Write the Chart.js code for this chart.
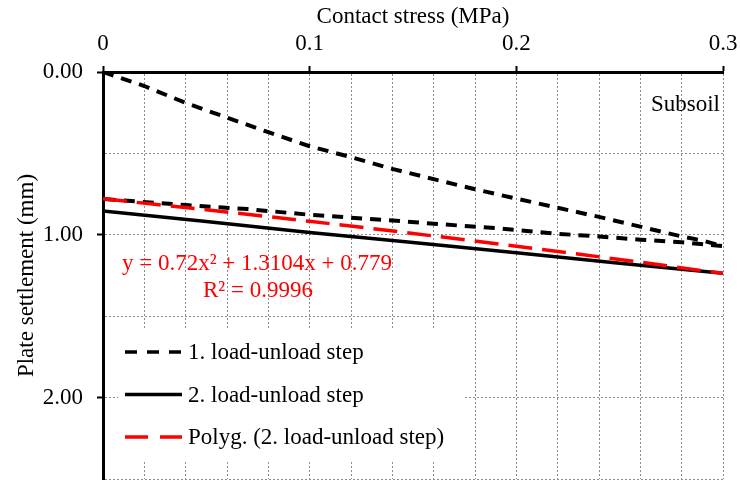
<!DOCTYPE html>
<html>
<head>
<meta charset="utf-8">
<script src="https://cdn.jsdelivr.net/npm/chart.js@4.4.1/dist/chart.umd.min.js"></script>
<style>
  html, body { margin: 0; padding: 0; background: #fff; }
  #wrap { width: 740px; height: 481px; }
</style>
</head>
<body>
<div id="wrap"><canvas id="plate"></canvas></div>
<script>
// contact stress (MPa) / plate settlement (mm)
const stress1 = [0, 0.02, 0.04, 0.06, 0.08, 0.1, 0.12, 0.14, 0.16, 0.18, 0.2, 0.22, 0.24, 0.26, 0.28, 0.29, 0.3,
                 0.28, 0.26, 0.24, 0.22, 0.19, 0.16, 0.14, 0.1, 0.07, 0.04, 0];
const settle1 = [0, 0.086, 0.19, 0.28, 0.37, 0.456, 0.523, 0.595, 0.658, 0.72, 0.778, 0.834, 0.89, 0.95, 1.01, 1.035, 1.07,
                 1.046, 1.03, 1.01, 0.994, 0.959, 0.932, 0.912, 0.877, 0.842, 0.817, 0.78];

const stress2 = [0, 0.05, 0.1, 0.15, 0.2, 0.25, 0.3];
const settle2 = [0.854, 0.918, 0.986, 1.048, 1.11, 1.175, 1.236];

// y = 0.72x² + 1.3104x + 0.779
const stressFit = [0, 0.05, 0.1, 0.15, 0.2, 0.25, 0.3];
const settleFit = [0.779, 0.8463, 0.9172, 0.9918, 1.0699, 1.1516, 1.2369];

const seriesNames = ['1. load-unload step', '2. load-unload step', 'Polyg. (2. load-unload step)'];
const fitText = ['y = 0.72x\u00B2 + 1.3104x + 0.779', 'R\u00B2 = 0.9996'];
const boxLabel = 'Subsoil';

const xTitle = 'Contact stress (MPa)';
const yTitle = 'Plate settlement (mm)';

const serif = '"Liberation Serif", "Times New Roman", serif';
const fontSize = 23;

function pts(xs, ys) {
    return xs.map((x, i) => ({x: x, y: ys[i]}));
}

const dashBlack = [11, 8];
const dashRed = [24, 10];

// legend inside the plot + text notes
const notesPlugin = {
    id: 'notes',
    afterDatasetsDraw(chart) {
        const ctx = chart.ctx;
        const xs = chart.scales.x, ys = chart.scales.y;
        ctx.save();

        // legend box
        ctx.fillStyle = '#fff';
        ctx.fillRect(118, 328, 347, 132);
        const rows = [
            {color: '#000', dash: [12, 10], w: 3.5},
            {color: '#000', dash: [], w: 3.5},
            {color: '#ff0000', dash: [23, 12], w: 3.5}
        ];
        ctx.font = fontSize + 'px ' + serif;
        ctx.textBaseline = 'middle';
        ctx.textAlign = 'left';
        rows.forEach((r, i) => {
            const y = 352 + i * 42.5;
            ctx.beginPath();
            ctx.setLineDash(r.dash);
            ctx.lineWidth = r.w;
            ctx.strokeStyle = r.color;
            ctx.moveTo(125, y);
            ctx.lineTo(182, y);
            ctx.stroke();
            ctx.fillStyle = '#000';
            ctx.fillText(seriesNames[i], 188, y + 1);
        });
        ctx.setLineDash([]);

        // trendline equation
        ctx.fillStyle = '#ff0000';
        ctx.textAlign = 'center';
        ctx.fillText(fitText[0], 257, 264);
        ctx.fillText(fitText[1], 258, 291);

        // subsoil label
        ctx.fillStyle = '#000';
        ctx.textAlign = 'right';
        ctx.fillText(boxLabel, xs.getPixelForValue(0.3) - 3, ys.getPixelForValue(0.2));
        ctx.restore();
    }
};

new Chart(document.getElementById('plate'), {
    type: 'scatter',
    data: {
        datasets: [
            {
                label: seriesNames[2],
                data: pts(stressFit, settleFit),
                showLine: true,
                borderColor: '#ff0000',
                borderWidth: 3.5,
                borderDash: dashRed,
                pointRadius: 0,
                tension: 0.3,
                order: 0
            },
            {
                label: seriesNames[0],
                data: pts(stress1, settle1),
                showLine: true,
                borderColor: '#000',
                borderWidth: 4,
                borderDash: dashBlack,
                pointRadius: 0,
                order: 1
            },
            {
                label: seriesNames[1],
                data: pts(stress2, settle2),
                showLine: true,
                borderColor: '#000',
                borderWidth: 3.5,
                pointRadius: 0,
                order: 2
            }
        ]
    },
    options: {
        responsive: true,
        maintainAspectRatio: false,
        animation: false,
        layout: { padding: { left: 0, right: 17, top: 0, bottom: 2 } },
        plugins: {
            legend: { display: false },
            tooltip: { enabled: false }
        },
        scales: {
            x: {
                type: 'linear',
                position: 'top',
                min: 0,
                max: 0.3,
                afterFit: (s) => { s.height = 72; s.paddingLeft = 0; s.paddingRight = 0; },
                ticks: {
                    stepSize: 0.02,
                    autoSkip: false,
                    maxRotation: 0,
                    padding: 8,
                    color: '#000',
                    font: { family: serif, size: fontSize },
                    callback: (v) => {
                        const t = Math.round(v * 10);
                        return Math.abs(v * 10 - t) < 1e-6 ? String(t / 10) : '';
                    }
                },
                grid: {
                    color: '#8c8c8c',
                    lineWidth: 1,
                    tickLength: 6,
                    tickWidth: 2,
                    tickColor: (c) => {
                        const v = c.tick ? c.tick.value : 0;
                        return Math.abs(v * 10 - Math.round(v * 10)) < 1e-6 ? '#000' : 'rgba(0,0,0,0)';
                    }
                },
                border: { color: '#000', width: 3, dash: [2, 2] },
                title: {
                    display: true,
                    text: xTitle,
                    color: '#000',
                    font: { family: serif, size: fontSize },
                    padding: { top: 3, bottom: 0 }
                }
            },
            y: {
                type: 'linear',
                reverse: true,
                min: 0,
                max: 2.5,
                afterFit: (s) => { s.width = 103; s.paddingTop = 0; s.paddingBottom = 0; },
                ticks: {
                    stepSize: 0.5,
                    autoSkip: false,
                    padding: 14,
                    color: '#000',
                    font: { family: serif, size: fontSize },
                    callback: (v) => Math.abs(v - Math.round(v)) < 1e-6 ? v.toFixed(2) : ''
                },
                grid: {
                    color: '#8c8c8c',
                    lineWidth: 1,
                    tickLength: 6,
                    tickWidth: 2,
                    tickColor: (c) => {
                        const v = c.tick ? c.tick.value : 0.5;
                        return Math.abs(v - Math.round(v)) < 1e-6 ? '#000' : 'rgba(0,0,0,0)';
                    }
                },
                border: { color: '#000', width: 3, dash: [2, 2] },
                title: {
                    display: true,
                    text: yTitle,
                    color: '#000',
                    font: { family: serif, size: fontSize },
                    padding: { top: 13, bottom: 0 }
                }
            }
        }
    },
    plugins: [notesPlugin]
});
</script>
</body>
</html>
